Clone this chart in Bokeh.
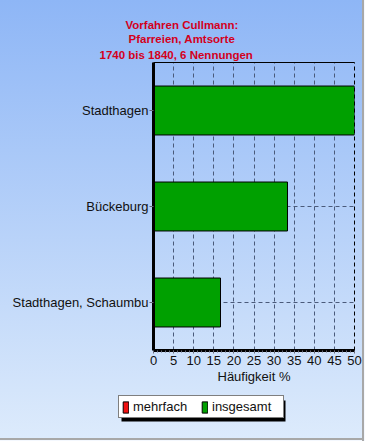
from bokeh.plotting import figure
from bokeh.models import (FactorRange, Range1d, ColumnDataSource, Title, Legend, LegendItem,
                          LinearAxis, FixedTicker)
from bokeh.embed import file_html
from bokeh.resources import INLINE

# ---- data ----
orte = ["Stadthagen", "Bückeburg", "Stadthagen, Schaumbu"]
insgesamt = [50.0, 33.33, 16.67]
mehrfach = [0.0, 0.0, 0.0]
x_ticks = [0, 5, 10, 15, 20, 25, 30, 35, 40, 45, 50]
title_lines = ["Vorfahren Cullmann:", "Pfarreien, Amtsorte", "1740 bis 1840, 6 Nennungen"]
x_label = "Häufigkeit %"
legend_labels = ["mehrfach", "insgesamt"]

src = ColumnDataSource(dict(ort=orte, insgesamt=insgesamt, mehrfach=mehrfach))

FONT = "Liberation Sans"
GREEN = "#00A000"
RED = "#F01010"
TXT = "#111111"
EDGE = "inset -1px 0 0 #F4F8FE, inset -3px 0 0 #A8A8A8"

W, H_MAIN, H_LEG = 365, 390, 51
p = figure(width=W, height=H_MAIN, output_backend="svg", toolbar_location=None,
           y_range=FactorRange(factors=list(reversed(orte)), range_padding=0),
           x_range=Range1d(0, 50),
           min_border_left=153, min_border_right=11, min_border_top=62, min_border_bottom=40)
p.styles = {"background": "linear-gradient(#8EB6F6, #D4E5FB)", "box-shadow": EDGE}
p.background_fill_alpha = 0
p.border_fill_alpha = 0
p.outline_line_color = None

r_ins = p.hbar(y="ort", right="insgesamt", left=0, height=0.51, source=src,
               fill_color=GREEN, line_color="black", line_width=1)
r_meh = p.hbar(y="ort", right="mehrfach", left=0, height=0.51, source=src,
               fill_color=RED, line_color="black", line_width=1)

# axes
xa = p.xaxis[0]
xa.ticker = FixedTicker(ticks=x_ticks, minor_ticks=list(range(0, 51)))
xa.axis_label = x_label
xa.axis_label_text_font = FONT
xa.axis_label_text_font_size = "13px"
xa.axis_label_text_font_style = "normal"
xa.axis_label_text_color = TXT
xa.axis_label_standoff = 1
xa.major_label_text_font = FONT
xa.major_label_text_font_size = "13px"
xa.major_label_text_color = TXT
xa.major_label_standoff = 2
xa.axis_line_width = 3
xa.axis_line_color = "black"
xa.major_tick_in = 0
xa.major_tick_out = 3
xa.minor_tick_in = 0
xa.minor_tick_out = 2
xa.major_tick_line_color = "#666677"
xa.minor_tick_line_color = "#666677"

ya = p.yaxis[0]
ya.major_label_text_font = FONT
ya.major_label_text_font_size = "13px"
ya.major_label_text_color = TXT
ya.axis_line_width = 3
ya.axis_line_color = "black"
ya.major_tick_in = 0
ya.major_tick_out = 4
ya.major_tick_line_color = "#666677"
ya.major_label_standoff = 1

top = LinearAxis(ticker=FixedTicker(ticks=[]), major_label_text_font_size="0px",
                 major_tick_out=0, major_tick_in=0, minor_tick_out=0, minor_tick_in=0,
                 major_label_standoff=0,
                 axis_line_color="black", axis_line_width=1)
p.add_layout(top, "above")
right = LinearAxis(ticker=FixedTicker(ticks=[]), major_label_text_font_size="0px",
                   major_tick_out=0, major_tick_in=0, minor_tick_out=0, minor_tick_in=0,
                   axis_line_color="black", axis_line_width=1, axis_line_dash="4 3")
p.add_layout(right, "right")

p.xgrid.grid_line_color = "#4a5a7a"
p.xgrid.grid_line_dash = "4 3"
p.ygrid.grid_line_color = "#4a5a7a"
p.ygrid.grid_line_dash = "4 3"

# title lines (stacked outward from the frame)
offsets = [-28, -25, -54]
standoffs = [0, 0, 4]
for t, off, so in reversed(list(zip(title_lines, offsets, standoffs))):
    p.add_layout(Title(text=t, align="left", offset=off, standoff=so,
                       text_font=FONT, text_font_size="11.5px", text_font_style="bold",
                       text_color="#D4001C"), "above")

# ---- legend strip (separate root, its frame is the whole strip, 1 unit = 1 px) ----
lg = figure(width=W, height=H_LEG, output_backend="svg", toolbar_location=None,
            x_range=Range1d(0, W), y_range=Range1d(0, H_LEG),
            x_axis_type=None, y_axis_type=None, min_border=0)
lg.styles = {"background": "linear-gradient(#D4E5FB, #DDEBFC)",
             "box-shadow": EDGE + ", inset 0 -1px 0 #F4F8FE, inset 0 -3px 0 #A8A8A8"}
lg.background_fill_alpha = 0
lg.border_fill_alpha = 0
lg.outline_line_color = None
lg.xgrid.visible = False
lg.ygrid.visible = False

# legend box geometry (pixels in the strip) and its drop shadow
LEG_X, LEG_Y, LEG_W, LEG_H, SH = 118, 23, 164, 21, 3
lg.quad(left=[LEG_X + SH], right=[LEG_X + LEG_W + SH], bottom=[LEG_Y - SH],
        top=[LEG_Y + LEG_H - SH], fill_color="black", line_color=None)

# proxy renderers for the legend swatches (lie outside the visible strip)
lsrc = ColumnDataSource(dict(y=[-100], left=[0], right=[1]))
l_meh = lg.hbar(y="y", left="left", right="right", height=1, source=lsrc,
                fill_color=RED, line_color="black", line_width=1)
l_ins = lg.hbar(y="y", left="left", right="right", height=1, source=lsrc,
                fill_color=GREEN, line_color="black", line_width=1)

legend = Legend(items=[LegendItem(label=legend_labels[0], renderers=[l_meh]),
                       LegendItem(label=legend_labels[1], renderers=[l_ins])],
                location=(LEG_X, LEG_Y), orientation="horizontal",
                glyph_width=7, glyph_height=14,
                label_text_font=FONT, label_text_font_size="13px", label_text_color=TXT,
                label_standoff=4, label_width=68, label_height=12,
                spacing=0, padding=3, margin=0,
                border_line_color="black", border_line_width=1,
                background_fill_color="white", background_fill_alpha=1)
lg.add_layout(legend, "center")

open("out.html", "w").write(file_html([p, lg], INLINE))
